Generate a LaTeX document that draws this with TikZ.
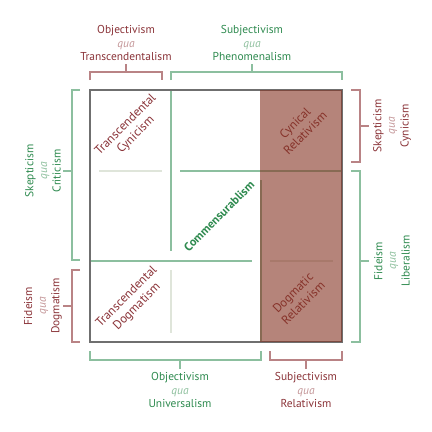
\documentclass[tikz,border=0pt]{standalone}
\usepackage{fontspec}
\setmainfont{PT Sans}
\usepackage{xcolor}
\usetikzlibrary{positioning}
\definecolor{grnline}{HTML}{8CBF9F}
\definecolor{redline}{HTML}{B98385}
\definecolor{grntxt}{HTML}{2E8A4F}
\definecolor{redtxt}{HTML}{8A3338}
\definecolor{grnqua}{HTML}{8DBF9D}
\definecolor{redqua}{HTML}{C39597}
\definecolor{paleline}{HTML}{DFE5DA}
\definecolor{boxgray}{HTML}{6F6F6F}
\definecolor{relfill}{HTML}{843221}
\tikzset{
  grnbr/.style={draw=grnline, line width=1.7bp},
  redbr/.style={draw=redline, line width=1.7bp},
  lbl/.style={align=center, inner sep=0pt, font=\fontsize{11.5}{13.7}\selectfont},
  cell/.style={align=center, inner sep=0pt, rotate=45, text=redtxt, font=\fontsize{12.5}{14.5}\selectfont},
}
\newcommand{\gqua}{{\color{grnqua}\itshape qua}}
\newcommand{\rqua}{{\color{redqua}\itshape qua}}

\begin{document}
\begin{tikzpicture}[x=1bp,y=-1bp]
    \useasboundingbox (0,0) rectangle (432,432);

    % Inner dividers
    \draw [grnbr] (171,90) -- (171,251);
    \draw [grnbr] (90,261) -- (252,261);
    \draw [grnbr] (180,171) -- (342,171);
    \draw [grnbr] (261,180) -- (261,342);
    \draw [draw=paleline, line width=1.7bp] (99,171) -- (162,171);
    \draw [draw=paleline, line width=1.7bp] (171,270) -- (171,333);
    \draw [draw=paleline, line width=1.7bp] (270,261) -- (333,261);

    % Square
    \draw [draw=boxgray, line width=1.4bp] (90,90) rectangle (342,342);

    % Brackets
    \draw [redbr] (90,80) -- (90,72) -- (162,72) -- (162,80) (126,72) -- (126,64);
    \draw [grnbr] (171,80) -- (171,72) -- (342,72) -- (342,80) (252,72) -- (252,64);
    \draw [grnbr] (80,90) -- (72,90) -- (72,260) -- (80,260) (72,171) -- (63,171);
    \draw [redbr] (80,270) -- (72,270) -- (72,342) -- (80,342) (72,306) -- (63,306);
    \draw [grnbr] (90,351) -- (90,360) -- (261,360) -- (261,351) (180,360) -- (180,369);
    \draw [redbr] (270,351) -- (270,360) -- (342,360) -- (342,351) (306,360) -- (306,369);
    \draw [redbr] (351,90) -- (360,90) -- (360,162) -- (351,162) (360,126) -- (369,126);
    \draw [grnbr] (351,171) -- (360,171) -- (360,342) -- (351,342) (360,261) -- (369,261);

    % Outer labels
    \node [lbl, text=redtxt] (objtrans) at (126,43) {Objectivism\\\rqua\\Transcendentalism};
    \node [lbl, text=grntxt] (subjphen) at (252,43) {Subjectivism\\\gqua\\Phenomenalism};
    \node [lbl, text=grntxt, rotate=90] (skepcrit) at (43,171) {Skepticism\\\gqua\\Criticism};
    \node [lbl, text=redtxt, rotate=90] (fiddog) at (43,306) {Fideism\\\rqua\\Dogmatism};
    \node [lbl, text=redtxt, rotate=90] (skepcyn) at (392,126) {Skepticism\\\rqua\\Cynicism};
    \node [lbl, text=grntxt, rotate=90] (fidlib) at (392,261) {Fideism\\\gqua\\Liberalism};
    \node [lbl, text=grntxt] (objuni) at (180,390) {Objectivism\\\gqua\\Universalism};
    \node [lbl, text=redtxt] (subjrel) at (306,390) {Subjectivism\\\rqua\\Relativism};

    % Cell labels
    \node [cell] (tcyn) at (131,130) {Transcendental\\Cynicism};
    \node [cell] (tdog) at (132,302) {Transcendental\\Dogmatism};
    \node [cell] (crel) at (300,128) {Cynical\\Relativism};
    \node [cell] (drel) at (298,298) {Dogmatic\\Relativism};
    \node [cell, text=grntxt, font=\fontsize{12}{14}\selectfont\bfseries] (comm) at (219,216) {Commensurablism};

    % Relativism column
    \fill [relfill, fill opacity=0.6] (260,90) rectangle (342,342);
\end{tikzpicture}
\end{document}
